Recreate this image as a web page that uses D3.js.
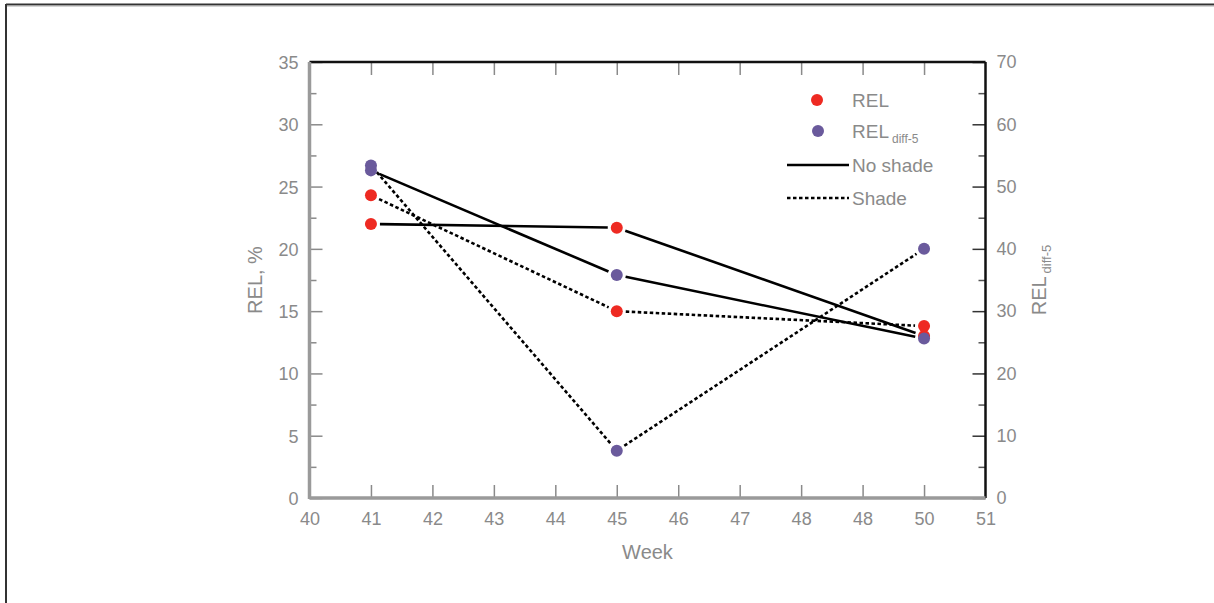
<!DOCTYPE html>
<html><head><meta charset="utf-8">
<script src="https://cdn.jsdelivr.net/npm/d3@7"></script>
<style>
html,body{margin:0;padding:0;background:#fff;}
svg{display:block;}
text{font-family:"Liberation Sans",Arial,sans-serif;fill:#8a8a8a;}
</style></head>
<body>
<script>
// ---- data ----
const weeks = [41, 45, 50];
const relNoShade = [22.0, 21.7, 13.0];
const relShade = [24.3, 15.0, 13.8];
const diffNoShade = [52.6, 35.8, 25.6];
const diffShade = [53.4, 7.6, 40.0];
const xTickValues = [40, 41, 42, 43, 44, 45, 46, 47, 48, 49, 50, 51];
const xTickLabels = ["40", "41", "42", "43", "44", "45", "46", "47", "48", "48", "50", "51"];
const leftTicks = [0, 5, 10, 15, 20, 25, 30, 35];
const leftMinor = [2.5, 7.5, 12.5, 17.5, 22.5, 27.5, 32.5];
const rightTicks = [0, 10, 20, 30, 40, 50, 60, 70];
const rightMinor = [5, 15, 25, 35, 45, 55, 65];
const legendItems = ["REL", "REL", "No shade", "Shade"];

const W = 1214, H = 603;
const svg = d3.select("body").append("svg").attr("width", W).attr("height", H);

// frame border (top + left)
svg.append("line").attr("x1", 6).attr("x2", W).attr("y1", 4.5).attr("y2", 4.5).attr("stroke", "#333").attr("stroke-width", 2);
svg.append("line").attr("x1", 6).attr("x2", W).attr("y1", 6).attr("y2", 6).attr("stroke", "#aaa").attr("stroke-width", 1);
svg.append("line").attr("x1", 6).attr("x2", 6).attr("y1", 4).attr("y2", H).attr("stroke", "#333").attr("stroke-width", 2);

const L = 309.5, R = 985.5, T = 62, B = 498;
const x = d3.scaleLinear().domain([40, 51]).range([L, R]);
const yL = d3.scaleLinear().domain([0, 35]).range([B, T]);
const yR = d3.scaleLinear().domain([0, 70]).range([B, T]);

const tickCol = "#8a8a8a";
function styleAxis(g, col, w) {
  g.select(".domain").remove();
  g.selectAll(".tick line").attr("stroke", col).attr("stroke-width", w || 1.5);
  g.selectAll(".tick text").attr("fill", "#8a8a8a").style("font-size", "18px")
    .style("font-family", '"Liberation Sans",Arial,sans-serif');
}

// left axis
const gl = svg.append("g").attr("transform", `translate(${L},0)`)
  .call(d3.axisLeft(yL).tickValues(leftTicks).tickSizeInner(-13).tickSizeOuter(0).tickPadding(11).tickFormat(d3.format("d")));
styleAxis(gl, tickCol);
gl.selectAll(".tick text").attr("dy", "0.36em");
const glm = svg.append("g").attr("transform", `translate(${L},0)`)
  .call(d3.axisLeft(yL).tickValues(leftMinor).tickSizeInner(-7).tickSizeOuter(0).tickFormat(""));
styleAxis(glm, tickCol);

// right axis
const gr = svg.append("g").attr("transform", `translate(${R},0)`)
  .call(d3.axisRight(yR).tickValues(rightTicks).tickSizeInner(-13).tickSizeOuter(0).tickPadding(11).tickFormat(d3.format("d")));
styleAxis(gr, "#333");
const grm = svg.append("g").attr("transform", `translate(${R},0)`)
  .call(d3.axisRight(yR).tickValues(rightMinor).tickSizeInner(-7).tickSizeOuter(0).tickFormat(""));
styleAxis(grm, "#555");

// bottom axis
const gb = svg.append("g").attr("transform", `translate(0,${B})`)
  .call(d3.axisBottom(x).tickValues(xTickValues).tickSizeInner(-13).tickSizeOuter(0).tickPadding(14)
    .tickFormat((d, i) => xTickLabels[i]));
styleAxis(gb, tickCol);
gb.selectAll(".tick line").filter(d => d === 40 || d === 51).remove();

// top axis
const gt = svg.append("g").attr("transform", `translate(0,${T})`)
  .call(d3.axisTop(x).tickValues(xTickValues.filter(d => d > 40 && d < 51)).tickSizeInner(-13).tickSizeOuter(0).tickFormat(""));
styleAxis(gt, tickCol);

// frame lines of the plot
svg.append("line").attr("x1", L).attr("x2", R).attr("y1", T).attr("y2", T).attr("stroke", "#111").attr("stroke-width", 2.5);
svg.append("line").attr("x1", R).attr("x2", R).attr("y1", T).attr("y2", B).attr("stroke", "#111").attr("stroke-width", 2.5);
svg.append("line").attr("x1", L).attr("x2", L).attr("y1", T).attr("y2", B + 1).attr("stroke", "#9a9a9a").attr("stroke-width", 3.5);
svg.append("line").attr("x1", L).attr("x2", R).attr("y1", B).attr("y2", B).attr("stroke", "#9a9a9a").attr("stroke-width", 3.5);

// axis titles
svg.append("text").attr("transform", `translate(262,${(T + B) / 2}) rotate(-90)`)
  .attr("text-anchor", "middle").style("font-size", "20px").text("REL, %");
svg.append("text").attr("x", (L + R) / 2).attr("y", 559).attr("text-anchor", "middle")
  .style("font-size", "20px").text("Week");
const rt = svg.append("text").attr("transform", `translate(1046,${(T + B) / 2}) rotate(-90)`)
  .attr("text-anchor", "middle");
rt.append("tspan").style("font-size", "20px").text("REL");
rt.append("tspan").style("font-size", "13px").attr("dy", 5).attr("dx", 3).text("diff-5");

// lines with gaps near markers
const gap = 9;
function drawSeries(vals, yScale, dashed) {
  const pts = weeks.map((w, i) => [x(w), yScale(vals[i])]);
  for (let i = 0; i < pts.length - 1; i++) {
    const [x1, y1] = pts[i], [x2, y2] = pts[i + 1];
    const dx = x2 - x1, dy = y2 - y1, len = Math.hypot(dx, dy);
    const ux = dx / len, uy = dy / len;
    svg.append("line")
      .attr("x1", x1 + ux * gap).attr("y1", y1 + uy * gap)
      .attr("x2", x2 - ux * gap).attr("y2", y2 - uy * gap)
      .attr("stroke", "#000").attr("stroke-width", 2.6)
      .attr("stroke-dasharray", dashed ? "3.5,2.5" : null);
  }
}
drawSeries(relNoShade, yL, false);
drawSeries(diffNoShade, yR, false);
drawSeries(relShade, yL, true);
drawSeries(diffShade, yR, true);

const red = "#ee2a22", purple = "#6a5a9c";
function drawPoints(vals, yScale, col) {
  svg.append("g").selectAll("circle").data(vals).join("circle")
    .attr("cx", (d, i) => x(weeks[i])).attr("cy", d => yScale(d)).attr("r", 6).attr("fill", col);
}
drawPoints(relNoShade, yL, red);
drawPoints(relShade, yL, red);
drawPoints(diffNoShade, yR, purple);
drawPoints(diffShade, yR, purple);

// legend
const lg = svg.append("g");
lg.append("circle").attr("cx", 817).attr("cy", 100).attr("r", 6).attr("fill", red);
lg.append("circle").attr("cx", 818).attr("cy", 131).attr("r", 6).attr("fill", purple);
lg.append("line").attr("x1", 787).attr("x2", 849).attr("y1", 165).attr("y2", 165).attr("stroke", "#000").attr("stroke-width", 2.6);
lg.append("line").attr("x1", 787).attr("x2", 849).attr("y1", 198).attr("y2", 198).attr("stroke", "#000").attr("stroke-width", 2.6).attr("stroke-dasharray", "3.5,2.5");
lg.append("text").attr("x", 852).attr("y", 107).style("font-size", "19px").text(legendItems[0]);
const t2 = lg.append("text").attr("x", 852).attr("y", 138);
t2.append("tspan").style("font-size", "19px").text(legendItems[1]);
t2.append("tspan").style("font-size", "12px").attr("dy", 5).attr("dx", 3).text("diff-5");
lg.append("text").attr("x", 852).attr("y", 172).style("font-size", "19px").text(legendItems[2]);
lg.append("text").attr("x", 852).attr("y", 205).style("font-size", "19px").text(legendItems[3]);
</script>
</body></html>
